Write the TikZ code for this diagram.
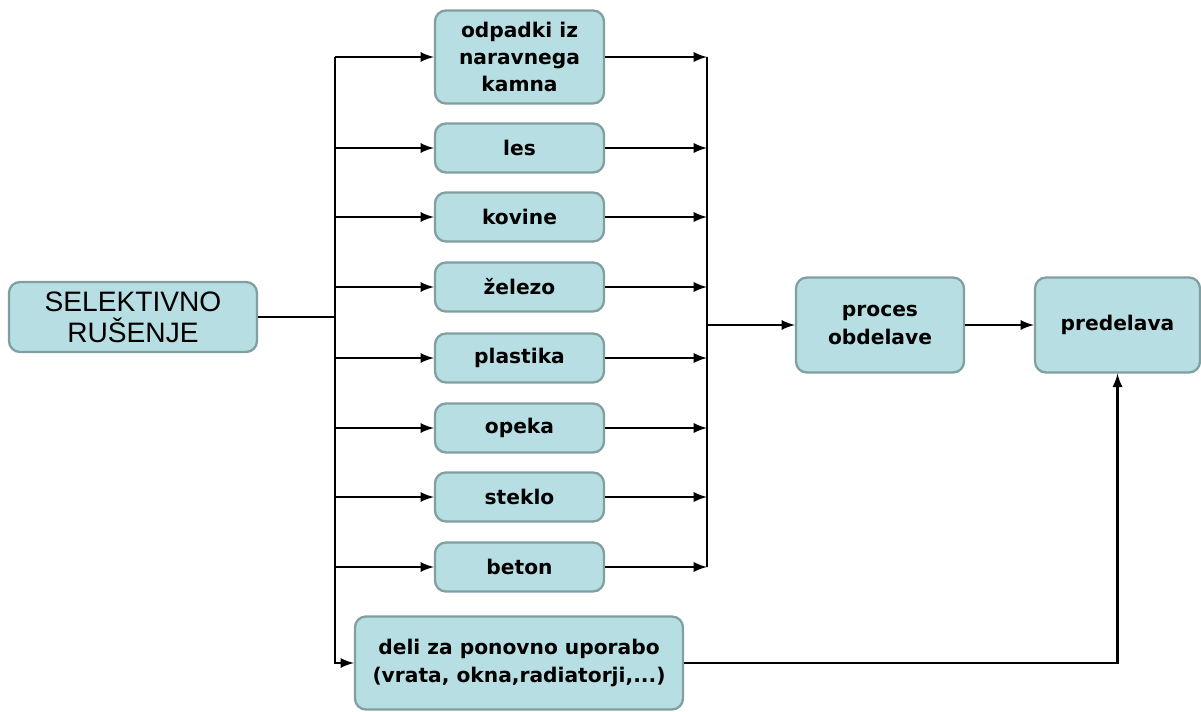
\documentclass[tikz,border=0pt]{standalone}
\usepackage{fontspec}
\setmainfont{DejaVu Sans}
\newfontfamily\arialfont{Liberation Sans}
\usepackage{tikz}

\definecolor{boxfill}{RGB}{183,222,226}
\definecolor{boxline}{RGB}{128,160,160}

\tikzset{
	box/.style={draw=boxline,fill=boxfill,line width=1.3pt,rounded corners=.22cm,align=center,inner sep=0pt,
		font=\bfseries\fontsize{11.5}{15.5}\selectfont},
	smallbox/.style={box,minimum width=3.38cm,minimum height=.98cm},
	link/.style={line width=1.6pt},
}

\begin{document}
\begin{tikzpicture}
			\useasboundingbox (0,0) rectangle (24.02,14.22);
			\coordinate (trunk) at (6.7,0);
			\coordinate (coll) at (14.14,0);

			\node[box,minimum width=4.96cm,minimum height=1.4cm,font=\arialfont\fontsize{16}{17.5}\selectfont] (sel) at (2.66,7.88) {SELEKTIVNO\\RUŠENJE};

			\node[smallbox,minimum height=1.86cm] (kamen) at (10.39,13.08) {odpadki iz\\naravnega\\kamna};
			\node[smallbox] (les) at (10.39,11.26) {les};
			\node[smallbox] (kovine) at (10.39,9.88) {kovine};
			\node[smallbox] (zelezo) at (10.39,8.48) {železo};
			\node[smallbox] (plastika) at (10.39,7.06) {plastika};
			\node[smallbox] (opeka) at (10.39,5.66) {opeka};
			\node[smallbox] (steklo) at (10.39,4.28) {steklo};
			\node[smallbox] (beton) at (10.39,2.88) {beton};
			\node[box,minimum width=6.56cm,minimum height=1.86cm] (deli) at (10.38,.96) {deli za ponovno uporabo\\(vrata, okna,radiatorji,...)};

			\node[box,minimum width=3.36cm,minimum height=1.9cm] (proces) at (17.6,7.72) {proces\\obdelave};
			\node[box,minimum width=3.3cm,minimum height=1.9cm] (predelava) at (22.35,7.72) {predelava};

			% razvod na levi
			\draw[link] (sel.east) -- (sel.east -| trunk);
			\draw[link,-latex] (trunk |- kamen.west) -- (trunk |- deli.west) -- (deli.west);
			\draw[link,-latex] (trunk |- kamen.west) -- (kamen.west);
			\draw[link,-latex] (trunk |- les.west) -- (les.west);
			\draw[link,-latex] (trunk |- kovine.west) -- (kovine.west);
			\draw[link,-latex] (trunk |- zelezo.west) -- (zelezo.west);
			\draw[link,-latex] (trunk |- plastika.west) -- (plastika.west);
			\draw[link,-latex] (trunk |- opeka.west) -- (opeka.west);
			\draw[link,-latex] (trunk |- steklo.west) -- (steklo.west);
			\draw[link,-latex] (trunk |- beton.west) -- (beton.west);

			% zbiranje na desni
			\draw[link,-latex] (kamen.east) -- (coll |- kamen.east);
			\draw[link,-latex] (les.east) -- (coll |- les.east);
			\draw[link,-latex] (kovine.east) -- (coll |- kovine.east);
			\draw[link,-latex] (zelezo.east) -- (coll |- zelezo.east);
			\draw[link,-latex] (plastika.east) -- (coll |- plastika.east);
			\draw[link,-latex] (opeka.east) -- (coll |- opeka.east);
			\draw[link,-latex] (steklo.east) -- (coll |- steklo.east);
			\draw[link,-latex] (beton.east) -- (coll |- beton.east);
			\draw[link] (coll |- kamen.east) -- (coll |- beton.east);

			\draw[link,-latex] (coll |- proces.west) -- (proces.west);
			\draw[link,-latex] (proces.east) -- (predelava.west);
			\draw[link,-latex] (deli.east) -| (predelava.south);
		\end{tikzpicture}
\end{document}
